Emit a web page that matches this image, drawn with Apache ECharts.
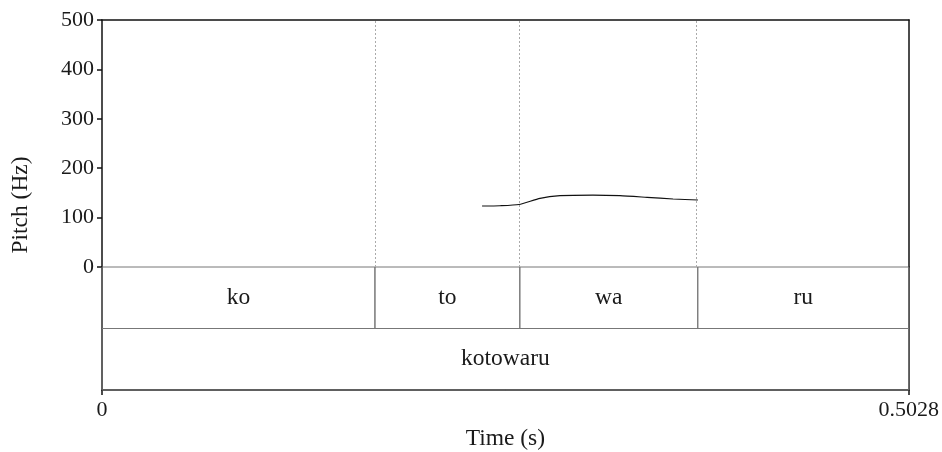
<!DOCTYPE html>
<html>
<head>
<meta charset="utf-8">
<script src="https://cdn.jsdelivr.net/npm/echarts@6/dist/echarts.min.js"></script>
<style>
  html, body { margin: 0; padding: 0; background: #fff; }
  #chart { width: 942px; height: 452px; }
</style>
</head>
<body>
<div id="chart"></div>
<script>
// pitch track
var pitchTime = [0.2368, 0.2480, 0.2598, 0.2729, 0.2854, 0.3059, 0.3227, 0.3396, 0.3558, 0.3713];
var pitchHz = [123.5, 124, 126.5, 139, 144.3, 145.5, 144.3, 141, 137.7, 135.6];

// text grid tiers
var syllables = ['ko', 'to', 'wa', 'ru'];
var syllableBounds = [0, 0.1701, 0.2604, 0.3713, 0.5028];
var words = ['kotowaru'];
var wordBounds = [0, 0.5028];

var duration = 0.5028;
var pitchTicks = [0, 100, 200, 300, 400, 500];

var FONT = 'Liberation Serif';
var TXT = '#1a1a1a';
var FS = 22;     // tick numbers
var FS_T = 23.5; // labels and names

// build tier items: [start, end, tier, label]
var tierItems = [];
syllables.forEach(function (s, i) {
  tierItems.push([syllableBounds[i], syllableBounds[i + 1], 1, s]);
});
words.forEach(function (w, i) {
  tierItems.push([wordBounds[i], wordBounds[i + 1], 0, w]);
});

var boundaryLines = syllableBounds.slice(1, -1).map(function (t) {
  return { xAxis: t };
});

var chart = echarts.init(document.getElementById('chart'));

var blackLine = { show: true, onZero: false, lineStyle: { color: '#111', width: 1.5 } };

chart.setOption({
  animation: false,
  backgroundColor: '#fff',
  grid: [
    { left: 102, right: 33, top: 20, height: 247 },
    { left: 102, right: 33, top: 267, height: 123 }
  ],
  xAxis: [
    {
      gridIndex: 0, type: 'value', min: 0, max: duration, position: 'top',
      axisLine: blackLine, axisTick: { show: false }, axisLabel: { show: false },
      splitLine: { show: false }
    },
    {
      gridIndex: 1, type: 'value', min: 0, max: duration, interval: duration,
      position: 'bottom',
      axisLine: blackLine,
      axisTick: { show: true, length: 5, lineStyle: { color: '#111', width: 1.5 } },
      axisLabel: {
        show: true, margin: 9, fontFamily: FONT, fontSize: FS, color: TXT,
        formatter: function (v) { return v === 0 ? '0' : duration.toString(); }
      },
      splitLine: { show: false },
      name: 'Time (s)', nameLocation: 'middle', nameGap: 37,
      nameTextStyle: { fontFamily: FONT, fontSize: FS_T, color: TXT }
    }
  ],
  yAxis: [
    {
      gridIndex: 0, type: 'value', min: 0, max: 500, interval: 100, position: 'left',
      axisLine: blackLine,
      axisTick: { show: true, length: 5, lineStyle: { color: '#111', width: 1.5 } },
      axisLabel: { margin: 8, fontFamily: FONT, fontSize: FS, color: TXT,
        formatter: function (v) { return pitchTicks.indexOf(v) >= 0 ? String(v) : ''; } },
      splitLine: { show: false }
    },
    {
      gridIndex: 0, type: 'value', min: 0, max: 500, position: 'right',
      axisLine: blackLine, axisTick: { show: false }, axisLabel: { show: false },
      splitLine: { show: false }
    },
    {
      gridIndex: 1, type: 'value', min: 0, max: 2, position: 'left',
      axisLine: blackLine, axisTick: { show: false }, axisLabel: { show: false },
      splitLine: { show: false }
    },
    {
      gridIndex: 1, type: 'value', min: 0, max: 2, position: 'right',
      axisLine: blackLine, axisTick: { show: false }, axisLabel: { show: false },
      splitLine: { show: false }
    }
  ],
  graphic: [
    {
      type: 'text', x: 21, y: 205, rotation: Math.PI / 2,
      style: { text: 'Pitch (Hz)', font: FS_T + 'px "' + FONT + '"', fill: TXT,
        align: 'center', verticalAlign: 'middle' }
    }
  ],
  series: [
    {
      type: 'line', xAxisIndex: 0, yAxisIndex: 0,
      data: pitchTime.map(function (t, i) { return [t, pitchHz[i]]; }),
      showSymbol: false, smooth: 0.2,
      lineStyle: { color: '#111', width: 1.2 },
      markLine: {
        silent: true, symbol: 'none', label: { show: false },
        lineStyle: { color: '#aaa', type: [2, 2], width: 1 },
        data: boundaryLines
      },
      z: 5
    },
    {
      type: 'custom', xAxisIndex: 1, yAxisIndex: 2,
      data: tierItems,
      renderItem: function (params, api) {
        var start = api.value(0), end = api.value(1), tier = api.value(2);
        var p1 = api.coord([start, tier + 1]);
        var p2 = api.coord([end, tier]);
        var item = tierItems[params.dataIndex];
        return {
          type: 'group',
          children: [
            {
              type: 'rect',
              shape: { x: p1[0], y: p1[1], width: p2[0] - p1[0], height: p2[1] - p1[1] },
              style: { fill: 'none', stroke: '#777', lineWidth: 1 }
            },
            {
              type: 'text',
              x: (p1[0] + p2[0]) / 2, y: (p1[1] + p2[1]) / 2,
              style: { text: item[3], font: FS_T + 'px "' + FONT + '"', fill: TXT,
                align: 'center', verticalAlign: 'middle' }
            }
          ]
        };
      },
      z: 2
    }
  ]
});
</script>
</body>
</html>
